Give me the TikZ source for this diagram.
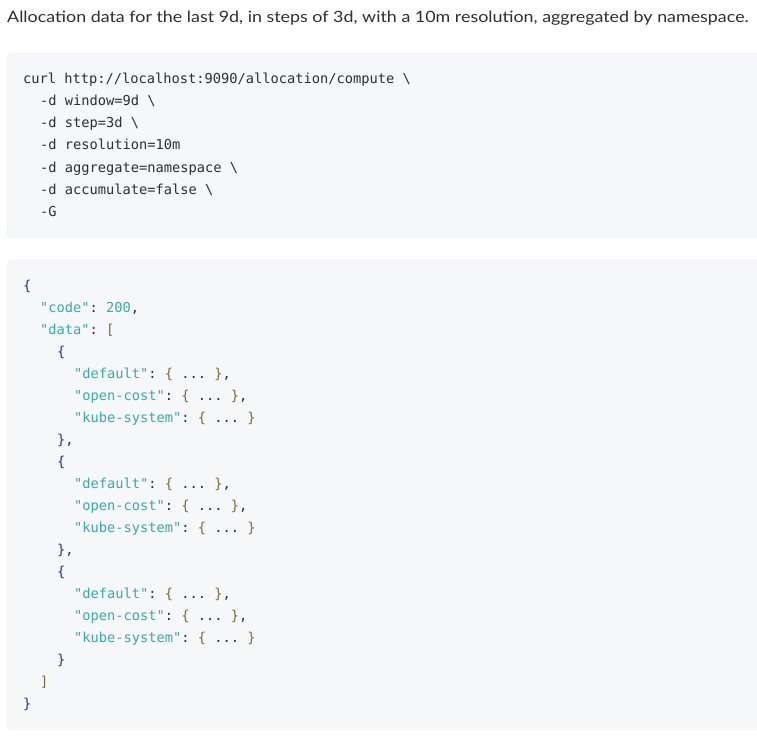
\documentclass[tikz,border=0pt]{standalone}
\usepackage{fontspec}
\setmainfont{Lato}
\setmonofont{DejaVu Sans Mono}
\usepackage{xcolor}
\usepackage{graphicx}
\definecolor{bgc}{HTML}{F6F7F9}
\definecolor{txt}{HTML}{2E2E2E}
\definecolor{str}{HTML}{3BA7A7}
\definecolor{brc}{HTML}{27357A}
\definecolor{inb}{HTML}{7E6A35}
\newcommand{\jStr}[1]{\textcolor{str}{#1}}
\newcommand{\jBr}[1]{\textcolor{brc}{#1}}
\newcommand{\jIn}[1]{\textcolor{inb}{#1}}
\tikzset{x=1pt,y=-1pt,
  blk/.style={fill=bgc,draw=black!6,rounded corners=5pt},
  cl/.style={anchor=base west,inner sep=0pt,text=txt,font=\ttfamily\fontsize{13.7}{14}\selectfont}}
\begin{document}
\begin{tikzpicture}
\useasboundingbox (0,0) rectangle (757,738);
\fill[white] (0,0) rectangle (757,738);
\node[anchor=base west,inner sep=0pt,text=txt,font=\fontsize{15.6}{17}\selectfont] (title) at (7,23) {\scalebox{1.145}[1]{Allocation data for the last 9d, in steps of 3d, with a 10m resolution, aggregated by namespace.}};
\draw[blk] (7,53) rectangle (770,238);
\node[cl] (a1) at (23,84) {curl http://localhost:9090/allocation/compute \textbackslash};
\node[cl] (a2) at (40,106) {-d window=9d \textbackslash};
\node[cl] (a3) at (40,128) {-d step=3d \textbackslash};
\node[cl] (a4) at (40,150) {-d resolution=10m};
\node[cl] (a5) at (40,172) {-d aggregate=namespace \textbackslash};
\node[cl] (a6) at (40,194) {-d accumulate=false \textbackslash};
\node[cl] (a7) at (40,216) {-G};
\draw[blk] (7,260) rectangle (770,730);
\node[cl] (b1) at (23,290) {\jBr{\{}};
\node[cl] (b2) at (40,312) {\jStr{"code"}: \jStr{200},};
\node[cl] (b3) at (40,334) {\jStr{"data"}: \jIn{[}};
\foreach \k/\y in {0/356,1/466,2/576}{
  \node[cl] (o\k) at (57,\y) {\jBr{\{}};
  \node[cl] (d\k) at (74,\y+22) {\jStr{"default"}: \jIn{\{} ... \jIn{\}},};
  \node[cl] (p\k) at (74,\y+44) {\jStr{"open-cost"}: \jIn{\{} ... \jIn{\}},};
  \node[cl] (k\k) at (74,\y+66) {\jStr{"kube-system"}: \jIn{\{} ... \jIn{\}}};
}
\node[cl] (c0) at (57,444) {\jBr{\}},};
\node[cl] (c1) at (57,554) {\jBr{\}},};
\node[cl] (c2) at (57,664) {\jBr{\}}};
\node[cl] (b4) at (40,686) {\jIn{]}};
\node[cl] (b5) at (23,708) {\jBr{\}}};
\end{tikzpicture}
\end{document}
